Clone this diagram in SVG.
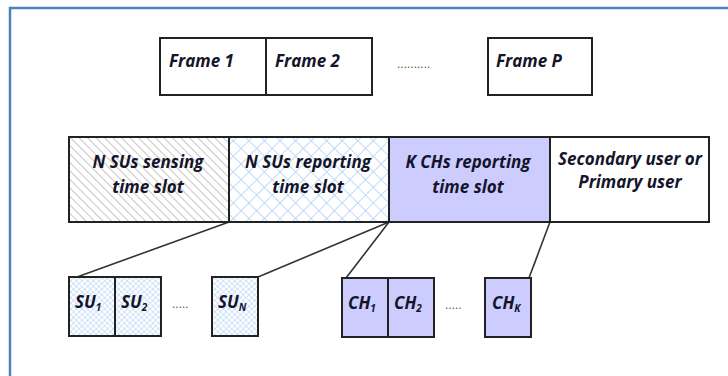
<svg xmlns="http://www.w3.org/2000/svg" width="728" height="376" viewBox="0 0 728 376">
<defs>
<pattern id="diag" patternUnits="userSpaceOnUse" width="6" height="6" patternTransform="rotate(-45)">
<rect width="6" height="6" fill="#ffffff"/>
<line x1="0" y1="0" x2="0" y2="6" stroke="#b8b8b8" stroke-width="1.6"/>
</pattern>
<pattern id="cross" patternUnits="userSpaceOnUse" width="11" height="11" patternTransform="rotate(45)">
<rect width="11" height="11" fill="#ffffff"/>
<line x1="0" y1="0" x2="11" y2="0" stroke="#a8ccf4" stroke-width="1.4"/>
<line x1="0" y1="0" x2="0" y2="11" stroke="#a8ccf4" stroke-width="1.4"/>
</pattern>
<pattern id="fine" patternUnits="userSpaceOnUse" width="4" height="4" patternTransform="rotate(45)">
<rect width="4" height="4" fill="#ffffff"/>
<line x1="0" y1="0" x2="4" y2="0" stroke="#a8ccf4" stroke-width="1"/>
<line x1="0" y1="0" x2="0" y2="4" stroke="#a8ccf4" stroke-width="1"/>
</pattern>
</defs>
<style>
.box{stroke:#222;stroke-width:2}
.t{font-family:"Open Sans","Liberation Sans",sans-serif;font-weight:bold;font-style:italic;fill:#14142a}
.f{font-size:17px}
.m{font-size:17px;text-anchor:middle}
.s{font-size:17px}
.sub{font-size:10px}
.dots{font-family:"Liberation Sans",sans-serif;font-size:12px;fill:#6a4a2a}
.con{stroke:#333;stroke-width:1.6;fill:none}
</style>
<rect x="10" y="8" width="740" height="400" fill="none" stroke="#4f81bd" stroke-width="2.5"/>

<g id="connectors">
<line class="con" x1="229" y1="222" x2="77" y2="277"/>
<line class="con" x1="389" y1="222" x2="258" y2="277"/>
<line class="con" x1="389" y1="222" x2="346" y2="278"/>
<line class="con" x1="550" y1="222" x2="529" y2="278"/>
</g>

<g id="frame1"><rect class="box" x="160" y="38" width="106" height="57" fill="#fff"/><text class="t f" x="169" y="67">Frame 1</text></g>
<g id="frame2"><rect class="box" x="266" y="38" width="106" height="57" fill="#fff"/><text class="t f" x="275" y="67">Frame 2</text></g>
<text class="dots" x="397" y="68" fill="#333">..........</text>
<g id="frameP"><rect class="box" x="488" y="38" width="104" height="57" fill="#fff"/><text class="t f" x="496" y="67">Frame P</text></g>

<g id="sensing"><rect class="box" x="69" y="137" width="160" height="85" fill="url(#diag)"/>
<text class="t m" x="148" y="168">N SUs sensing</text><text class="t m" x="148" y="193">time slot</text></g>
<g id="sureport"><rect class="box" x="229" y="137" width="160" height="85" fill="url(#cross)"/>
<text class="t m" x="308" y="168">N SUs reporting</text><text class="t m" x="308" y="193">time slot</text></g>
<g id="chreport"><rect class="box" x="389" y="137" width="161" height="85" fill="#ccccff"/>
<text class="t m" x="468" y="168">K CHs reporting</text><text class="t m" x="468" y="193">time slot</text></g>
<g id="user"><rect class="box" x="550" y="137" width="159" height="85" fill="#fff"/>
<text class="t m" x="630" y="165">Secondary user or</text><text class="t m" x="630" y="188">Primary user</text></g>

<g id="su1"><rect class="box" x="69" y="277" width="46" height="59" fill="url(#fine)"/><text class="t s" x="75" y="308">SU<tspan class="sub" dy="3">1</tspan></text></g>
<g id="su2"><rect class="box" x="115" y="277" width="46" height="59" fill="url(#fine)"/><text class="t s" x="121" y="308">SU<tspan class="sub" dy="3">2</tspan></text></g>
<text class="dots" x="172" y="308">.....</text>
<g id="suN"><rect class="box" x="212" y="277" width="46" height="59" fill="url(#fine)"/><text class="t s" x="218" y="308">SU<tspan class="sub" dy="3">N</tspan></text></g>

<g id="ch1"><rect class="box" x="342" y="278" width="46" height="59" fill="#ccccff"/><text class="t s" x="348" y="309">CH<tspan class="sub" dy="3">1</tspan></text></g>
<g id="ch2"><rect class="box" x="388" y="278" width="46" height="59" fill="#ccccff"/><text class="t s" x="394" y="309">CH<tspan class="sub" dy="3">2</tspan></text></g>
<text class="dots" x="445" y="309">.....</text>
<g id="chK"><rect class="box" x="485" y="278" width="46" height="59" fill="#ccccff"/><text class="t s" x="492" y="309">CH<tspan class="sub" dy="3">K</tspan></text></g>
</svg>
